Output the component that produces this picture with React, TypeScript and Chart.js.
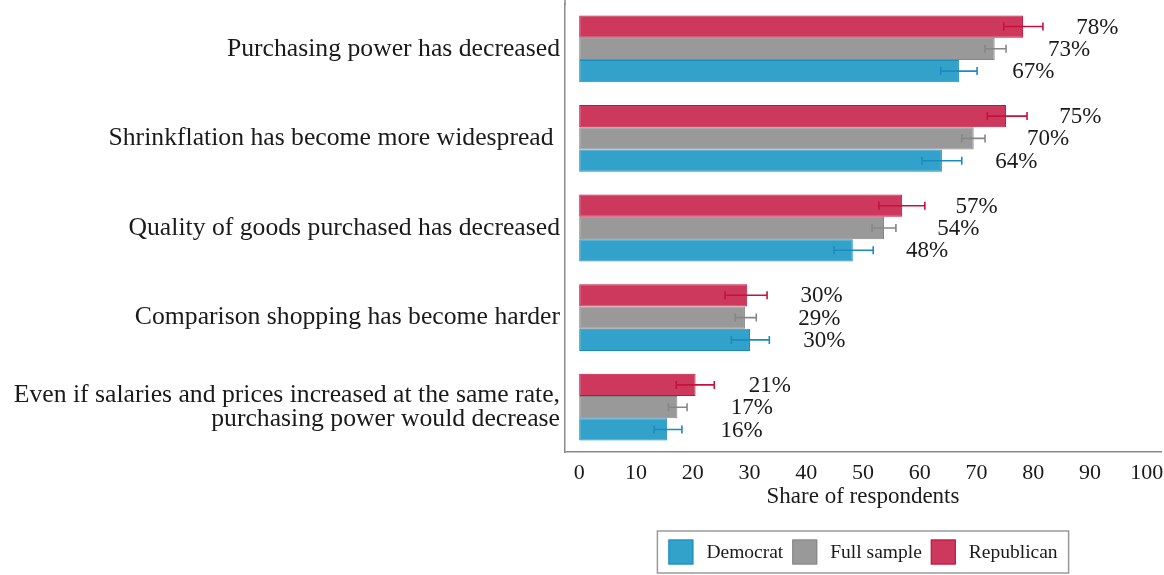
import React, { useEffect, useRef } from "react";
import { Chart, registerables } from "chart.js";

Chart.register(...registerables);

// ---------- data ----------
const categories: (string | string[])[] = [
  "Purchasing power has decreased",
  "Shrinkflation has become more widespread ",
  "Quality of goods purchased has decreased",
  "Comparison shopping has become harder",
  ["Even if salaries and prices increased at the same rate,", "purchasing power would decrease"],
];

const republican = [78.2, 75.2, 56.9, 29.6, 20.5];
const republicanLo = [74.8, 71.9, 52.8, 25.7, 17.1];
const republicanHi = [81.7, 78.9, 60.9, 33.1, 23.8];
const republicanText = ["78%", "75%", "57%", "30%", "21%"];

const fullSample = [73.2, 69.5, 53.7, 29.2, 17.3];
const fullSampleLo = [71.5, 67.4, 51.6, 27.5, 15.7];
const fullSampleHi = [75.2, 71.5, 55.8, 31.2, 19.0];
const fullSampleText = ["73%", "70%", "54%", "29%", "17%"];

const democrat = [66.9, 63.9, 48.2, 30.1, 15.5];
const democratLo = [63.7, 60.4, 44.9, 26.8, 13.2];
const democratHi = [70.1, 67.4, 51.8, 33.5, 18.1];
const democratText = ["67%", "64%", "48%", "30%", "16%"];

const xTicks = [0, 10, 20, 30, 40, 50, 60, 70, 80, 90, 100];
const legendOrder = ["Democrat", "Full sample", "Republican"];

// ---------- styles ----------
const FONT = '"Liberation Serif", "Times New Roman", serif';
const TEXT = "#1a1a1a";
const AXIS = "#8a8a8a";

const series = [
  { label: "Republican", values: republican, lo: republicanLo, hi: republicanHi, text: republicanText, fill: "#CD395D", line: "#C8103E" },
  { label: "Full sample", values: fullSample, lo: fullSampleLo, hi: fullSampleHi, text: fullSampleText, fill: "#999999", line: "#868686" },
  { label: "Democrat", values: democrat, lo: democratLo, hi: democratHi, text: democratText, fill: "#33A2CA", line: "#1A8BBF" },
];

const LABEL_OFFSET = 13.1;

export default function App() {
  const ref = useRef<HTMLCanvasElement>(null);

  useEffect(() => {
    if (!ref.current) return;

    const errorBarPlugin = {
      id: "errorBars",
      afterDatasetsDraw(chart: any) {
        const ctx = chart.ctx;
        const xs = chart.scales.x;
        series.forEach((s, i) => {
          const meta = chart.getDatasetMeta(i);
          meta.data.forEach((bar: any, j: number) => {
            const y = bar.y;
            const x1 = xs.getPixelForValue(s.lo[j]);
            const x2 = xs.getPixelForValue(s.hi[j]);
            ctx.save();
            ctx.strokeStyle = s.line;
            ctx.lineWidth = 1.6;
            ctx.beginPath();
            ctx.moveTo(x1, y);
            ctx.lineTo(x2, y);
            ctx.moveTo(x1, y - 4);
            ctx.lineTo(x1, y + 4);
            ctx.moveTo(x2, y - 4);
            ctx.lineTo(x2, y + 4);
            ctx.stroke();
            ctx.fillStyle = TEXT;
            ctx.font = `23px ${FONT}`;
            ctx.textAlign = "center";
            ctx.textBaseline = "middle";
            ctx.fillText(s.text[j], xs.getPixelForValue(s.values[j] + LABEL_OFFSET), y + 1);
            ctx.restore();
          });
        });
      },
    };

    const legendPlugin = {
      id: "boxLegend",
      afterDraw(chart: any) {
        const ctx = chart.ctx;
        ctx.save();
        // left axis line reaches the top of the figure
        ctx.strokeStyle = AXIS;
        ctx.lineWidth = 1.5;
        ctx.beginPath();
        ctx.moveTo(chart.chartArea.left, 0);
        ctx.lineTo(chart.chartArea.left, chart.chartArea.top + 1);
        ctx.stroke();

        ctx.font = `19.5px ${FONT}`;
        const items = legendOrder.map((name) => {
          const s = series.find((q) => q.label === name)!;
          return { s, w: ctx.measureText(name).width };
        });
        const sw = 25, gapText = 13, gapItem = 9, pad = 11;
        const total = pad * 2 + items.reduce((a, it) => a + sw + gapText + it.w, 0) + gapItem * (items.length - 1);
        const cx = (chart.chartArea.left + chart.chartArea.right) / 2;
        const left = cx - total / 2;
        const top = 531, h = 42;
        ctx.strokeStyle = "#9a9a9a";
        ctx.lineWidth = 1.5;
        ctx.strokeRect(left, top, total, h);
        let x = left + pad;
        const midY = top + h / 2;
        items.forEach((it) => {
          ctx.fillStyle = it.s.fill;
          ctx.fillRect(x, midY - sw / 2, sw, sw);
          ctx.strokeStyle = it.s.line;
          ctx.lineWidth = 1;
          ctx.strokeRect(x + 0.5, midY - sw / 2 + 0.5, sw - 1, sw - 1);
          x += sw + gapText;
          ctx.fillStyle = TEXT;
          ctx.textAlign = "left";
          ctx.textBaseline = "middle";
          ctx.fillText(it.s.label, x, midY + 1);
          x += it.w + gapItem;
        });
        ctx.restore();
      },
    };

    const chart = new Chart(ref.current, {
      type: "bar",
      data: {
        labels: categories,
        datasets: series.map((s) => ({
          label: s.label,
          data: s.values,
          backgroundColor: s.fill,
          borderColor: s.line,
          borderWidth: 1,
          borderSkipped: false,
          categoryPercentage: 0.746,
          barPercentage: 1.0,
        })),
      },
      options: {
        indexAxis: "y",
        responsive: false,
        animation: false,
        layout: { padding: { left: 0, right: 3, top: 4, bottom: 64 } },
        plugins: {
          legend: { display: false },
          tooltip: { enabled: false },
        },
        scales: {
          x: {
            type: "linear",
            min: -2.5,
            max: 102.5,
            afterBuildTicks: (scale: any) => {
              scale.ticks = xTicks.map((v) => ({ value: v }));
            },
            afterFit: (scale: any) => {
              scale.height = 59;
              scale.paddingLeft = 0;
              scale.paddingRight = 0;
            },
            grid: { display: false, drawTicks: false },
            border: { display: true, color: AXIS, width: 1.5 },
            ticks: {
              padding: 8,
              color: TEXT,
              font: { family: FONT, size: 22 },
              maxRotation: 0,
              autoSkip: false,
            },
            title: {
              display: true,
              text: "Share of respondents",
              color: TEXT,
              font: { family: FONT, size: 23 },
              padding: { top: 0, bottom: 0 },
            },
          },
          y: {
            afterFit: (scale: any) => {
              scale.width = 565;
              scale.paddingTop = 0;
              scale.paddingBottom = 0;
            },
            grid: { display: false, drawTicks: false },
            border: { display: true, color: AXIS, width: 1.5 },
            ticks: {
              padding: 5,
              color: TEXT,
              font: { family: FONT, size: 25.7, lineHeight: 0.93 },
              autoSkip: false,
            },
          },
        },
      } as any,
      plugins: [errorBarPlugin, legendPlugin],
    });

    return () => chart.destroy();
  }, []);

  return (
    <div style={{ position: "absolute", left: 0, top: 0, width: 1164, height: 575, background: "#fff" }}>
      <canvas ref={ref} width={1164} height={575} style={{ width: 1164, height: 575, display: "block" }} />
    </div>
  );
}
